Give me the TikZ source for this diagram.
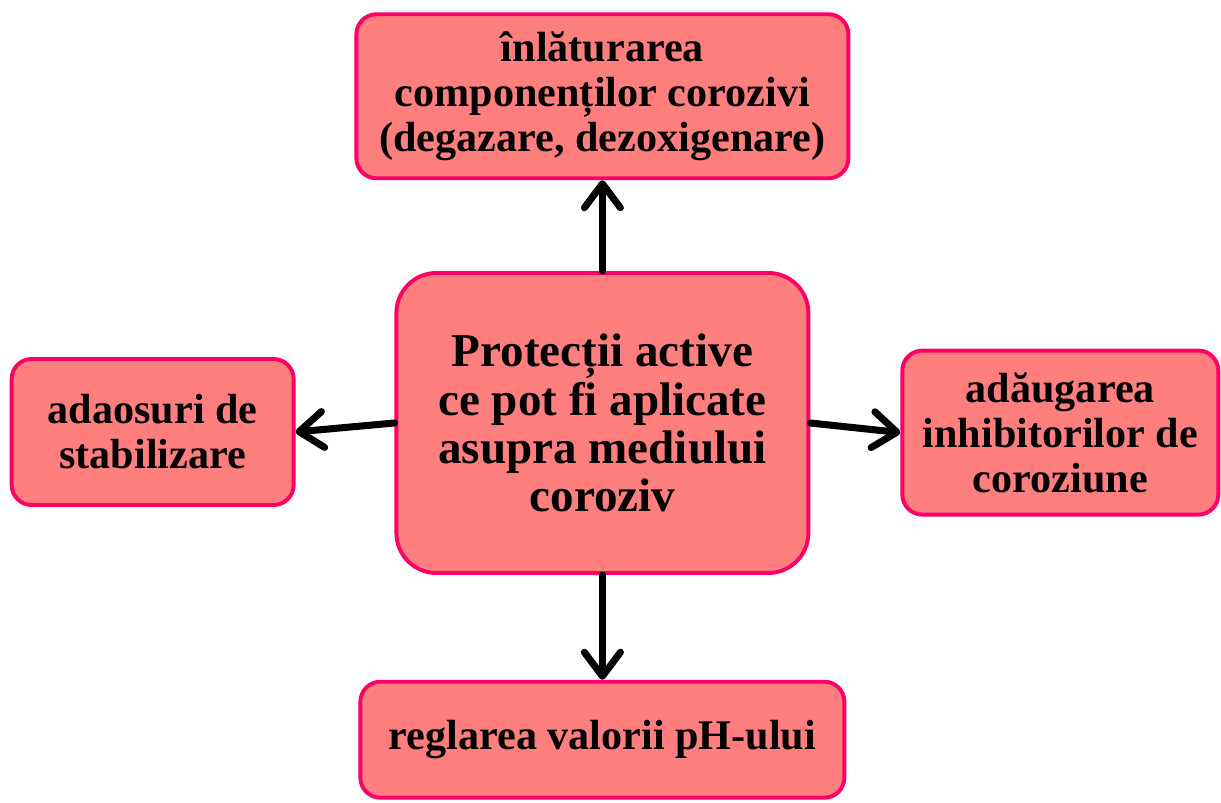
\documentclass[tikz,border=0pt]{standalone}
\usepackage{fontspec}
\setmainfont{Liberation Serif}
\usepackage{tikz}
\usetikzlibrary{arrows.meta,positioning}
\definecolor{BoxFill}{HTML}{FF7F7F}
\definecolor{BoxLine}{HTML}{FF0066}

\begin{document}
\begin{tikzpicture}[
  box/.style={draw=BoxLine,line width=2.8pt,rounded corners=0.5cm,fill=BoxFill,align=center,font=\fontsize{30}{32}\selectfont\bfseries},
  core/.style={box,rounded corners=1cm,minimum width=10.3cm,minimum height=7.5cm,font=\fontsize{33.5}{34.2}\selectfont\bfseries},
  arr/.style={-{Straight Barb[length=6mm,width=9mm,round]},line width=5pt,line cap=round,draw=black}
]
\useasboundingbox (0,0) rectangle (30.525,-20.075);
\node[core] (ctr) at (15.06,-10.575) {Protecții active\\ce pot fi aplicate\\asupra mediului\\coroziv};
\node[box,minimum width=12.3cm,minimum height=4.1cm,above=2.27cm of ctr] (top) {înlăturarea\\componenților corozivi\\(degazare, dezoxigenare)};
\node[box,minimum width=12.1cm,minimum height=2.9cm,below=2.62cm of ctr] (bot) {reglarea valorii pH-ului};
\node[box,minimum width=7.05cm,minimum height=3.65cm,left=2.47cm of ctr,yshift=-0.225cm] (lft) {adaosuri de\\stabilizare};
\node[box,minimum width=7.9cm,minimum height=4.1cm,right=2.25cm of ctr,yshift=-0.24cm] (rgt) {adăugarea\\inhibitorilor de\\coroziune};
\draw[arr] (ctr.north)--(top.south);
\draw[arr] (ctr.south)--(bot.north);
\draw[arr] (ctr.west)--(lft.east);
\draw[arr] (ctr.east)--(rgt.west);
\end{tikzpicture}
\end{document}
